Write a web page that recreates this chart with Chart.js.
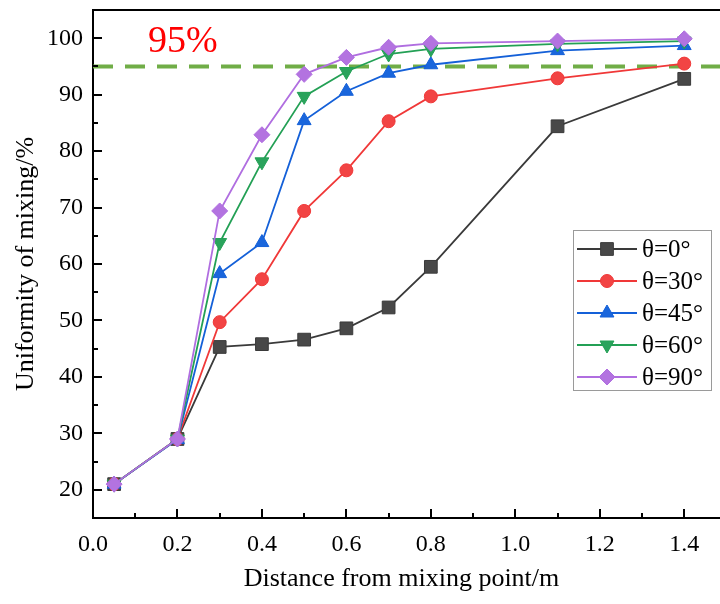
<!DOCTYPE html>
<html>
<head>
<meta charset="utf-8">
<script src="https://cdn.jsdelivr.net/npm/chart.js@4.4.1/dist/chart.umd.min.js"></script>
<style>
  html, body { margin: 0; padding: 0; background: #fff; overflow: hidden; }
  canvas { display: block; }
</style>
</head>
<body>
<canvas id="chart" width="720" height="604"></canvas>
<script>
// distances along the pipe (m)
const distances = [0.05, 0.2, 0.3, 0.4, 0.5, 0.6, 0.7, 0.8, 1.1, 1.4];

// uniformity of mixing (%) per injection angle
const theta0  = [21.0, 29.0, 45.3, 45.8, 46.6, 48.6, 52.3, 59.5, 84.4, 92.8];
const theta30 = [21.0, 29.0, 49.7, 57.3, 69.4, 76.6, 85.3, 89.7, 92.9, 95.5];
const theta45 = [21.0, 28.9, 58.3, 63.8, 85.4, 90.6, 93.8, 95.3, 97.8, 98.7];
const theta60 = [21.0, 29.0, 63.8, 78.1, 89.7, 94.1, 97.2, 98.1, 99.0, 99.5];
const theta90 = [21.0, 29.0, 69.4, 82.9, 93.6, 96.6, 98.4, 99.1, 99.5, 99.9];

const seriesLabels = ['θ=0°', 'θ=30°', 'θ=45°', 'θ=60°', 'θ=90°'];
const xTicks = [0.0, 0.2, 0.4, 0.6, 0.8, 1.0, 1.2, 1.4];
const yTicks = [20, 30, 40, 50, 60, 70, 80, 90, 100];
const threshold = 95;

const FONT = '"Liberation Serif", "Times New Roman", serif';

const styles = [
  { color: '#3a3a3a', fill: '#484848', shape: 'rect',     radius: 9 },
  { color: '#f03838', fill: '#f24444', shape: 'circle',   radius: 6.5 },
  { color: '#1460d8', fill: '#1a66dc', shape: 'triangle', radius: 8 },
  { color: '#23a055', fill: '#2aa35c', shape: 'triangle', radius: 8, rot: 180 },
  { color: '#b06ee0', fill: '#b373e0', shape: 'rectRot',  radius: 8 }
];

const allSeries = [theta0, theta30, theta45, theta60, theta90];

const datasets = allSeries.map((vals, i) => ({
  label: seriesLabels[i],
  data: distances.map((d, k) => ({ x: d, y: vals[k] })),
  borderColor: styles[i].color,
  backgroundColor: styles[i].fill,
  pointBackgroundColor: styles[i].fill,
  pointBorderColor: styles[i].color,
  pointBorderWidth: 1,
  pointStyle: styles[i].shape,
  pointRotation: styles[i].rot || 0,
  pointRadius: styles[i].radius,
  borderWidth: 1.8,
  tension: 0,
  clip: false,
  order: 4 - i
}));

// inward ticks, top frame, 95% line, label and legend
const decorPlugin = {
  id: 'decor',
  beforeDatasetsDraw(chart) {
    const { ctx, chartArea: a, scales: { y } } = chart;
    ctx.save();
    // 95% reference line, runs off the right edge like the cropped original
    const yp = y.getPixelForValue(threshold);
    ctx.strokeStyle = '#70ad47';
    ctx.lineWidth = 4;
    ctx.setLineDash([20, 12]);
    ctx.beginPath();
    ctx.moveTo(a.left, yp);
    ctx.lineTo(chart.width, yp);
    ctx.stroke();
    ctx.restore();
  },
  afterDraw(chart) {
    const { ctx, chartArea: a, scales: { x, y } } = chart;
    ctx.save();
    ctx.strokeStyle = '#000';
    ctx.lineWidth = 2;
    // top frame
    ctx.beginPath();
    ctx.moveTo(a.left - 1, a.top);
    ctx.lineTo(chart.width, a.top);
    ctx.stroke();
    // bottom axis continues to the edge
    ctx.beginPath();
    ctx.moveTo(a.right - 1, a.bottom);
    ctx.lineTo(chart.width, a.bottom);
    ctx.stroke();
    // x ticks (major + minor) pointing inwards
    for (let v = 0; v <= 1.45; v += 0.1) {
      const px = Math.round(x.getPixelForValue(v));
      const major = Math.round(v * 10) % 2 === 0;
      ctx.beginPath();
      ctx.moveTo(px, a.bottom);
      ctx.lineTo(px, a.bottom - (major ? 9 : 5));
      ctx.stroke();
    }
    for (let v = 20; v <= 100; v += 5) {
      const py = Math.round(y.getPixelForValue(v));
      const major = v % 10 === 0;
      ctx.beginPath();
      ctx.moveTo(a.left, py);
      ctx.lineTo(a.left + (major ? 9 : 5), py);
      ctx.stroke();
    }
    // 95% label
    ctx.fillStyle = '#ff0000';
    ctx.font = '38px ' + FONT;
    ctx.textBaseline = 'middle';
    ctx.textAlign = 'left';
    ctx.fillText('95%', x.getPixelForValue(0.13), y.getPixelForValue(99.3));

    // legend box
    const lx = 573, ly = 230, lw = 138, lh = 160, row = 32;
    ctx.fillStyle = '#fff';
    ctx.fillRect(lx, ly, lw, lh);
    ctx.strokeStyle = '#9a9a9a';
    ctx.lineWidth = 1;
    ctx.strokeRect(lx + 0.5, ly + 0.5, lw, lh);
    chart.data.datasets.forEach((ds, i) => {
      const cy = ly + 19 + i * row;
      ctx.strokeStyle = ds.borderColor;
      ctx.lineWidth = 1.8;
      ctx.beginPath();
      ctx.moveTo(lx + 4, cy);
      ctx.lineTo(lx + 64, cy);
      ctx.stroke();
      ctx.fillStyle = ds.pointBackgroundColor;
      ctx.strokeStyle = ds.pointBorderColor;
      ctx.lineWidth = 1;
      Chart.helpers.drawPoint(ctx, {
        pointStyle: ds.pointStyle,
        rotation: ds.pointRotation,
        radius: ds.pointRadius,
        borderWidth: 1
      }, lx + 34, cy);
      ctx.fillStyle = '#000';
      ctx.font = '25px ' + FONT;
      ctx.textAlign = 'left';
      ctx.textBaseline = 'middle';
      ctx.fillText(ds.label, lx + 69, cy + 1);
    });
    ctx.restore();
  }
};

new Chart(document.getElementById('chart'), {
  type: 'line',
  data: { datasets },
  options: {
    responsive: false,
    animation: false,
    layout: { padding: { top: 8, right: 0, left: 0, bottom: 0 } },
    plugins: {
      legend: { display: false },
      tooltip: { enabled: false }
    },
    scales: {
      x: {
        type: 'linear',
        min: 0,
        max: 1.461,
        afterBuildTicks: s => { s.ticks = xTicks.map(v => ({ value: v })); },
        afterFit: s => { s.height = 86; s.paddingLeft = 0; s.paddingRight = 0; },
        grid: { display: false, drawTicks: false },
        border: { display: true, color: '#000', width: 2 },
        ticks: {
          color: '#000',
          padding: 12,
          maxRotation: 0,
          font: { family: FONT, size: 24 },
          callback: v => Number(v).toFixed(1)
        },
        title: {
          display: true,
          text: 'Distance from mixing point/m',
          color: '#000',
          font: { family: FONT, size: 26 },
          padding: { top: 0, bottom: 9 }
        }
      },
      y: {
        min: 15,
        max: 105,
        afterBuildTicks: s => { s.ticks = yTicks.map(v => ({ value: v })); },
        afterFit: s => { s.width = 93; s.paddingTop = 0; s.paddingBottom = 0; },
        grid: { display: false, drawTicks: false },
        border: { display: true, color: '#000', width: 2 },
        ticks: {
          color: '#000',
          padding: 10,
          font: { family: FONT, size: 24 }
        },
        title: {
          display: true,
          text: 'Uniformity of mixing/%',
          color: '#000',
          font: { family: FONT, size: 26 },
          padding: { top: 11, bottom: 0 }
        }
      }
    }
  },
  plugins: [decorPlugin]
});
</script>
</body>
</html>
